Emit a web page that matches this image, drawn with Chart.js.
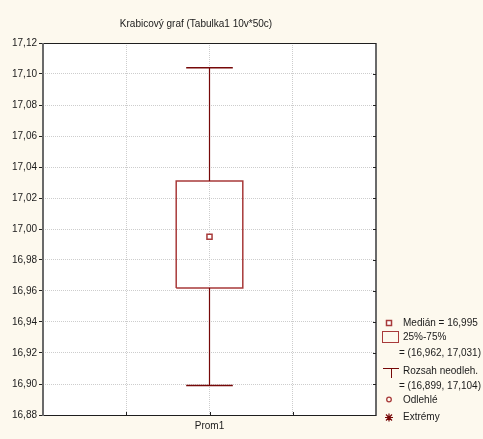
<!DOCTYPE html>
<html>
<head>
<meta charset="utf-8">
<script src="https://cdn.jsdelivr.net/npm/chart.js@4/dist/chart.umd.min.js"></script>
<style>
  html, body { margin: 0; padding: 0; background: #fdf9ee; }
  #wrap { width: 483px; height: 439px; }
</style>
</head>
<body>
<div id="wrap"><canvas id="c" width="483" height="439"></canvas></div>
<script>
// Variable and its five-number summary
const categories = ['Prom1'];
const medianValues = [16.995];
const q1Values = [16.962];
const q3Values = [17.031];
const minValues = [16.899];
const maxValues = [17.104];
const yTicks = [16.88, 16.90, 16.92, 16.94, 16.96, 16.98, 17.00, 17.02, 17.04, 17.06, 17.08, 17.10, 17.12];

const titleText = 'Krabicový graf (Tabulka1 10v*50c)';
const DARK_RED = '#760808';
const BOX_RED = '#a83a3a';
const FONT = '"Liberation Sans", Arial, sans-serif';
const BOX_HALF = 0.4;
const CAP_HALF = 0.28;

const fmt = (v, d) => v.toFixed(d).replace('.', ',');

// category i sits at x = 2 on a 0..4 axis
const catX = i => 2 + i;

const datasets = [];
categories.forEach((c, i) => {
  const x = catX(i);
  datasets.push({
    label: 'upper', data: [{ x: x, y: q3Values[i] }, { x: x, y: maxValues[i] }],
    showLine: true, borderColor: DARK_RED, borderWidth: 1.2, pointRadius: 0
  });
  datasets.push({
    label: 'lower', data: [{ x: x, y: minValues[i] }, { x: x, y: q1Values[i] }],
    showLine: true, borderColor: DARK_RED, borderWidth: 1.2, pointRadius: 0
  });
  datasets.push({
    label: 'capTop', data: [{ x: x - CAP_HALF, y: maxValues[i] }, { x: x + CAP_HALF, y: maxValues[i] }],
    showLine: true, borderColor: DARK_RED, borderWidth: 1.6, pointRadius: 0
  });
  datasets.push({
    label: 'capBottom', data: [{ x: x - CAP_HALF, y: minValues[i] }, { x: x + CAP_HALF, y: minValues[i] }],
    showLine: true, borderColor: DARK_RED, borderWidth: 1.6, pointRadius: 0
  });
  datasets.push({
    label: 'box', data: [
      { x: x - BOX_HALF, y: q1Values[i] }, { x: x + BOX_HALF, y: q1Values[i] },
      { x: x + BOX_HALF, y: q3Values[i] }, { x: x - BOX_HALF, y: q3Values[i] },
      { x: x - BOX_HALF, y: q1Values[i] }],
    showLine: true, borderColor: BOX_RED, borderWidth: 1.5, pointRadius: 0, fill: false
  });
  datasets.push({
    label: 'median', data: [{ x: x, y: medianValues[i] }],
    showLine: false, pointStyle: 'rect', pointRadius: 3.6,
    pointBackgroundColor: '#ffffff', pointBorderColor: BOX_RED, pointBorderWidth: 1.5
  });
});

// white plot background, frame, inner ticks, title and legend
const decor = {
  id: 'decor',
  beforeDraw(chart) {
    const { ctx, chartArea: a } = chart;
    ctx.save();
    ctx.fillStyle = '#ffffff';
    ctx.fillRect(a.left, a.top, a.right - a.left, a.bottom - a.top);
    ctx.restore();
  },
  afterDraw(chart) {
    const { ctx, chartArea: a, scales } = chart;
    ctx.save();
    // frame
    ctx.strokeStyle = '#1e1e1e';
    ctx.lineWidth = 1;
    ctx.beginPath();
    ctx.moveTo(a.left, a.top + 0.5); ctx.lineTo(a.right, a.top + 0.5);
    ctx.moveTo(a.left, a.bottom + 0.5); ctx.lineTo(a.right, a.bottom + 0.5);
    ctx.stroke();
    ctx.strokeStyle = '#6a6a6a';
    ctx.lineWidth = 2;
    ctx.beginPath();
    ctx.moveTo(a.left, a.top); ctx.lineTo(a.left, a.bottom + 1);
    ctx.moveTo(a.right, a.top); ctx.lineTo(a.right, a.bottom + 1);
    ctx.stroke();
    // inner ticks on bottom and right edges
    ctx.strokeStyle = '#222';
    ctx.lineWidth = 1;
    ctx.beginPath();
    [1, 2, 3].forEach(v => {
      const px = Math.round(scales.x.getPixelForValue(v)) + 0.5;
      ctx.moveTo(px, a.bottom); ctx.lineTo(px, a.bottom - 3);
    });
    yTicks.forEach(v => {
      const py = Math.round(scales.y.getPixelForValue(v)) + 0.5;
      ctx.moveTo(a.right, py); ctx.lineTo(a.right - 3, py);
    });
    ctx.stroke();

    // title
    ctx.fillStyle = '#1a1a1a';
    ctx.font = '10px ' + FONT;
    ctx.textAlign = 'center';
    ctx.textBaseline = 'middle';
    ctx.fillText(titleText, 196, 24);

    // legend
    const lx = a.right + 13;   // icon centre
    const tx = a.right + 27;   // text start
    ctx.textAlign = 'left';
    ctx.fillStyle = '#1a1a1a';
    const rows = [
      { y: 323, text: 'Medián = ' + fmt(medianValues[0], 3) },
      { y: 337, text: '25%-75%' },
      { y: 353, text: '= (' + fmt(q1Values[0], 3) + ', ' + fmt(q3Values[0], 3) + ')', dx: -4 },
      { y: 371, text: 'Rozsah neodleh.' },
      { y: 386, text: '= (' + fmt(minValues[0], 3) + ', ' + fmt(maxValues[0], 3) + ')', dx: -4 },
      { y: 400, text: 'Odlehlé' },
      { y: 417, text: 'Extrémy' }
    ];
    rows.forEach(r => ctx.fillText(r.text, tx + (r.dx || 0), r.y));

    // median icon
    ctx.strokeStyle = BOX_RED;
    ctx.lineWidth = 1.5;
    ctx.fillStyle = '#fff';
    ctx.fillRect(lx - 2.5, 320.5, 5, 5);
    ctx.strokeRect(lx - 2.5, 320.5, 5, 5);
    // box icon
    ctx.lineWidth = 1;
    ctx.strokeRect(lx - 6.5, 331.5, 16, 11);
    // whisker icon
    ctx.strokeStyle = DARK_RED;
    ctx.beginPath();
    ctx.moveTo(lx - 6, 368.5); ctx.lineTo(lx + 10, 368.5);
    ctx.moveTo(lx + 2.5, 368.5); ctx.lineTo(lx + 2.5, 378);
    ctx.stroke();
    // outlier icon
    ctx.strokeStyle = BOX_RED;
    ctx.lineWidth = 1.3;
    ctx.beginPath();
    ctx.arc(lx, 399.5, 2.3, 0, Math.PI * 2);
    ctx.stroke();
    // extreme icon
    ctx.strokeStyle = DARK_RED;
    ctx.lineWidth = 1.2;
    ctx.beginPath();
    const ey = 417.5, s = 4;
    ctx.moveTo(lx - s, ey); ctx.lineTo(lx + s, ey);
    ctx.moveTo(lx, ey - s); ctx.lineTo(lx, ey + s);
    ctx.moveTo(lx - s + 1, ey - s + 1); ctx.lineTo(lx + s - 1, ey + s - 1);
    ctx.moveTo(lx - s + 1, ey + s - 1); ctx.lineTo(lx + s - 1, ey - s + 1);
    ctx.stroke();
    ctx.restore();
  }
};

Chart.defaults.font.family = FONT;
Chart.defaults.font.size = 10;
Chart.defaults.color = '#1a1a1a';

new Chart(document.getElementById('c'), {
  type: 'scatter',
  data: { datasets },
  plugins: [decor],
  options: {
    responsive: false,
    animation: false,
    layout: { padding: { top: 43, right: 107, bottom: 0, left: 0 } },
    plugins: { legend: { display: false }, tooltip: { enabled: false }, title: { display: false } },
    scales: {
      x: {
        type: 'linear', min: 0, max: 4,
        afterFit(s) { s.height = 24; },
        afterBuildTicks(s) { s.ticks = [0, 1, 2, 3, 4].map(v => ({ value: v })); },
        ticks: {
          padding: 5,
          autoSkip: false, maxRotation: 0,
          callback: v => (v >= 2 && v - 2 < categories.length && Number.isInteger(v)) ? categories[v - 2] : ''
        },
        grid: { color: '#cdcdcd', drawTicks: false },
        border: { display: false, dash: [1, 1] }
      },
      y: {
        type: 'linear', min: 16.88, max: 17.12,
        afterFit(s) { s.width = 43; },
        afterBuildTicks(s) { s.ticks = yTicks.map(v => ({ value: v })); },
        ticks: { padding: 2, callback: v => fmt(v, 2) },
        grid: { color: '#cdcdcd', tickLength: 4, tickColor: '#222', tickBorderDash: [] },
        border: { display: false, dash: [1, 1] }
      }
    }
  }
});
</script>
</body>
</html>
